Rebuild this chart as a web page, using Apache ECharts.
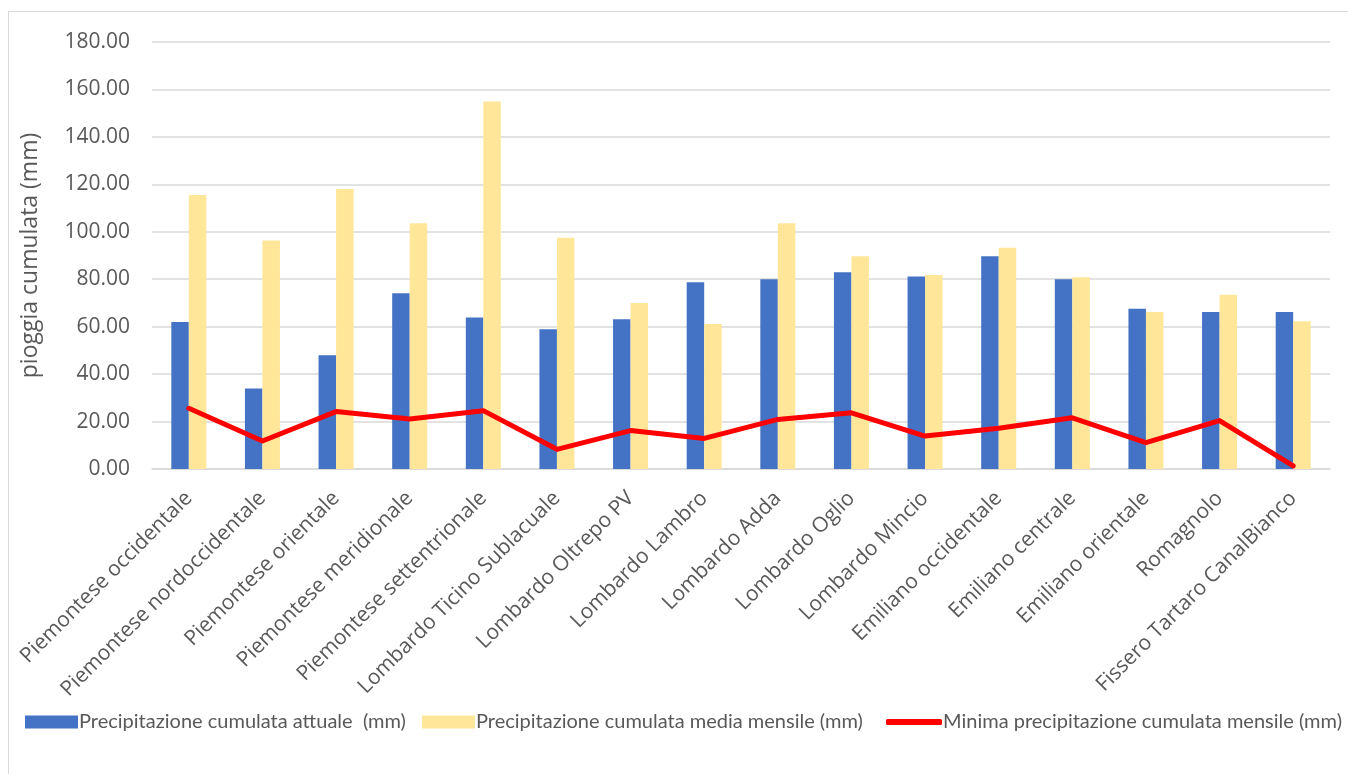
<!DOCTYPE html>
<html>
<head>
<meta charset="utf-8">
<script src="https://cdn.jsdelivr.net/npm/echarts@6/dist/echarts.min.js"></script>
<style>
html,body{margin:0;padding:0;background:#fff;}
#frame{position:absolute;left:8px;top:11px;width:1400px;height:800px;border:1px solid #d9d9d9;box-sizing:border-box;}
#chart{position:absolute;left:0;top:0;width:1348px;height:774px;}
</style>
</head>
<body>
<div id="frame"></div>
<div id="chart"></div>
<script>
const categories = [
  'Piemontese occidentale','Piemontese nordoccidentale','Piemontese orientale','Piemontese meridionale',
  'Piemontese settentrionale','Lombardo Ticino Sublacuale','Lombardo Oltrepo PV','Lombardo Lambro',
  'Lombardo Adda','Lombardo Oglio','Lombardo Mincio','Emiliano occidentale','Emiliano centrale',
  'Emiliano orientale','Romagnolo','Fissero Tartaro CanalBianco'
];
const attuale = [62.0, 33.9, 47.9, 74.1, 63.9, 58.9, 63.1, 78.7, 80.0, 82.9, 81.2, 89.7, 80.0, 67.6, 66.2, 66.2];
const media = [115.5, 96.3, 118.0, 103.6, 154.9, 97.5, 70.0, 61.1, 103.6, 89.7, 81.8, 93.3, 80.8, 66.2, 73.5, 62.3];
const minima = [25.6, 11.8, 24.2, 21.1, 24.6, 8.3, 16.2, 12.9, 20.9, 23.7, 13.9, 17.2, 21.6, 11.1, 20.4, 1.3];
const names = [
  'Precipitazione cumulata attuale  (mm)',
  'Precipitazione cumulata media mensile (mm)',
  'Minima precipitazione cumulata mensile (mm)'
];

const legendText = {fontFamily:'Lato', fontSize:20, color:'#595959', padding:[0,0,0,-4]};
const chart = echarts.init(document.getElementById('chart'), null, {renderer:'canvas'});
chart.setOption({
  animation:false,
  textStyle:{fontFamily:'Open Sans'},
  grid:{left:152, right:18, top:42, bottom:305, containLabel:false},
  legend:[
    {left:20, top:707, itemWidth:53, itemHeight:13, itemGap:16, textStyle:legendText,
     data:[{name:names[0], icon:'rect'},{name:names[1], icon:'rect'}]},
    {left:881, top:707, itemWidth:56, itemHeight:6, textStyle:legendText,
     data:[{name:names[2], icon:'roundRect'}]}
  ],
  xAxis:{
    type:'category', data:categories,
    axisLine:{lineStyle:{color:'#d9d9d9', width:1.5}},
    axisTick:{show:false},
    axisLabel:{rotate:45, fontSize:21, color:'#595959', margin:26, interval:0, fontFamily:'Open Sans'}
  },
  yAxis:{
    type:'value', min:0, max:180, interval:20,
    name:'pioggia cumulata (mm)', nameLocation:'middle', nameGap:110, nameRotate:90,
    nameTextStyle:{fontSize:23, color:'#595959', fontFamily:'Open Sans'},
    axisLabel:{formatter:v=>v.toFixed(2), fontSize:21, color:'#595959', margin:22, fontFamily:'Open Sans'},
    splitLine:{lineStyle:{color:'#d9d9d9', width:1.5}},
    axisLine:{show:false}, axisTick:{show:false}
  },
  series:[
    {name:names[0], type:'bar', data:attuale, barWidth:17.5, barGap:'0%', itemStyle:{color:'#4472c4'}},
    {name:names[1], type:'bar', data:media, barWidth:17.5, barGap:'0%', itemStyle:{color:'#ffe699'}},
    {name:names[2], type:'line', data:minima, symbol:'none', showSymbol:false,
     lineStyle:{color:'#ff0000', width:5, cap:'round', join:'round'}, itemStyle:{color:'#ff0000'}, z:5}
  ]
});
</script>
</body>
</html>
